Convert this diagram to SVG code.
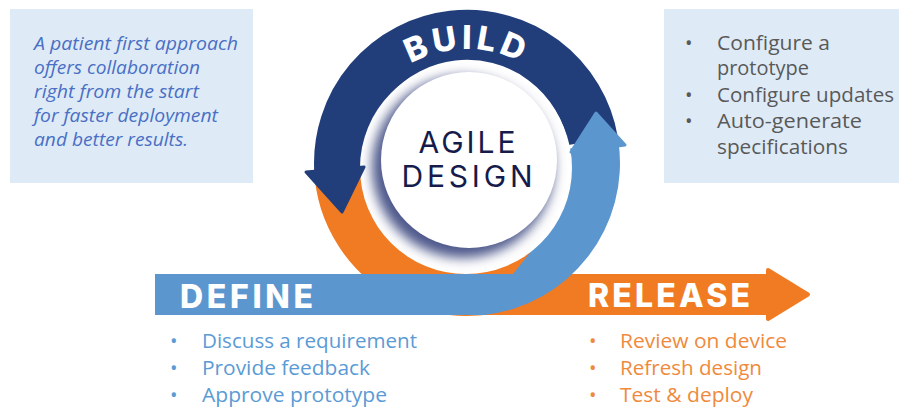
<svg xmlns="http://www.w3.org/2000/svg" width="899" height="409" viewBox="0 0 899 409">
<style>
.box{fill:#deebf7}
.intro{font-family:"Open Sans","Noto Sans",sans-serif;font-style:italic;font-size:18.5px;fill:#4a6fc4}
.build{font-family:"Open Sans","Noto Sans",sans-serif;font-size:20px;fill:#595959}
.deflist{font-family:"Open Sans","Noto Sans",sans-serif;font-size:20px;fill:#5b9bd5}
.rellist{font-family:"Open Sans","Noto Sans",sans-serif;font-size:20px;fill:#ef8a3d}
.head{font-family:Inter,"Open Sans","DejaVu Sans",sans-serif;font-weight:800;fill:#ffffff}
.center{font-family:Inter,"Open Sans","DejaVu Sans",sans-serif;font-weight:400;font-size:30px;fill:#151c4c}
.arc{fill:none;stroke-width:50;stroke-linecap:butt}
</style>
<defs>
<clipPath id="diskClip"><circle cx="466" cy="168" r="106"/></clipPath>
<filter id="blur" x="-30%" y="-30%" width="160%" height="160%"><feGaussianBlur stdDeviation="6"/></filter>
<path id="buildArc" d="M 359.9 124 A 114 114 0 0 1 574.1 124"/>
</defs>

<g id="intro-box">
<rect class="box" x="10" y="9" width="243" height="174"/>
<text class="intro" x="34" y="50" textLength="204" lengthAdjust="spacingAndGlyphs">A patient first approach</text>
<text class="intro" x="34" y="73.5" textLength="166" lengthAdjust="spacingAndGlyphs">offers collaboration</text>
<text class="intro" x="34" y="97.5" textLength="165" lengthAdjust="spacingAndGlyphs">right from the start</text>
<text class="intro" x="34" y="121.5" textLength="184" lengthAdjust="spacingAndGlyphs">for faster deployment</text>
<text class="intro" x="34" y="146" textLength="154" lengthAdjust="spacingAndGlyphs">and better results.</text>
</g>

<g id="build-box">
<rect class="box" x="664" y="9" width="235" height="174"/>
<text class="build" x="685" y="49.5">•</text>
<text class="build" x="717" y="49.5" textLength="113" lengthAdjust="spacingAndGlyphs">Configure a</text>
<text class="build" x="717" y="75" textLength="92" lengthAdjust="spacingAndGlyphs">prototype</text>
<text class="build" x="685" y="101.5">•</text>
<text class="build" x="717" y="101.5" textLength="177" lengthAdjust="spacingAndGlyphs">Configure updates</text>
<text class="build" x="685" y="128">•</text>
<text class="build" x="717" y="128" textLength="145" lengthAdjust="spacingAndGlyphs">Auto-generate</text>
<text class="build" x="717" y="154" textLength="131" lengthAdjust="spacingAndGlyphs">specifications</text>
</g>

<g id="connectors">
<path id="orange-arc" class="arc" stroke="#f07b23" d="M 339.1 167.5 A 128 128 0 0 0 540.4 267.9"/>
<path id="build-arc" class="arc" stroke="#213e7a" d="M 593.1 140.8 A 128 128 0 0 0 339.2 169.7"/>
<g id="release-arrow" fill="#f07b23" stroke="#f07b23" stroke-linejoin="round" stroke-width="4">
<rect x="470" y="276" width="300" height="37"/>
<polygon points="768,270 808,294.5 768,319"/>
</g>
<path id="define-arrow" fill="#5b96cf" d="M 155 274 L 513 274 L 540 240 L 566 175 L 570 148.4 L 618.5 141.7 A 153 153 0 0 1 484.6 315 L 155 315 Z"/>
</g>

<g id="agile-design">
<circle cx="466" cy="168" r="106" fill="#ffffff"/>
<g clip-path="url(#diskClip)">
<circle cx="463" cy="167" r="91" fill="#4f5a8c" filter="url(#blur)"/>
</g>
<circle cx="469" cy="160" r="88" fill="#ffffff"/>
<text class="center" x="467" y="153" text-anchor="middle" textLength="97" lengthAdjust="spacing">AGILE</text>
<text class="center" x="467" y="187" text-anchor="middle" textLength="131" lengthAdjust="spacing">DESIGN</text>
</g>

<g id="arrowheads">
<polygon points="306,172 364,167 342,212" fill="#213e7a" stroke="#213e7a" stroke-width="3" stroke-linejoin="round"/>
<polygon points="571,152 625,145 596,113" fill="#5b96cf" stroke="#5b96cf" stroke-width="3" stroke-linejoin="round"/>
</g>

<g id="build-label">
<text class="head" font-size="33" letter-spacing="4"><textPath href="#buildArc" startOffset="50%" text-anchor="middle">BUILD</textPath></text>
</g>

<g id="define">
<text class="head" x="180" y="308" font-size="32" textLength="133" lengthAdjust="spacing">DEFINE</text>
<text class="deflist" x="170" y="348">•</text>
<text class="deflist" x="202" y="348" textLength="215" lengthAdjust="spacingAndGlyphs">Discuss a requirement</text>
<text class="deflist" x="170" y="375">•</text>
<text class="deflist" x="202" y="375" textLength="168" lengthAdjust="spacingAndGlyphs">Provide feedback</text>
<text class="deflist" x="170" y="402">•</text>
<text class="deflist" x="202" y="402" textLength="185" lengthAdjust="spacingAndGlyphs">Approve prototype</text>
</g>

<g id="release">
<text class="head" x="588" y="307" font-size="32" textLength="162" lengthAdjust="spacing">RELEASE</text>
<text class="rellist" x="589" y="348">•</text>
<text class="rellist" x="620" y="348" textLength="167" lengthAdjust="spacingAndGlyphs">Review on device</text>
<text class="rellist" x="589" y="375">•</text>
<text class="rellist" x="620" y="375" textLength="142" lengthAdjust="spacingAndGlyphs">Refresh design</text>
<text class="rellist" x="589" y="402">•</text>
<text class="rellist" x="620" y="402" textLength="133" lengthAdjust="spacingAndGlyphs">Test &amp; deploy</text>
</g>
</svg>
